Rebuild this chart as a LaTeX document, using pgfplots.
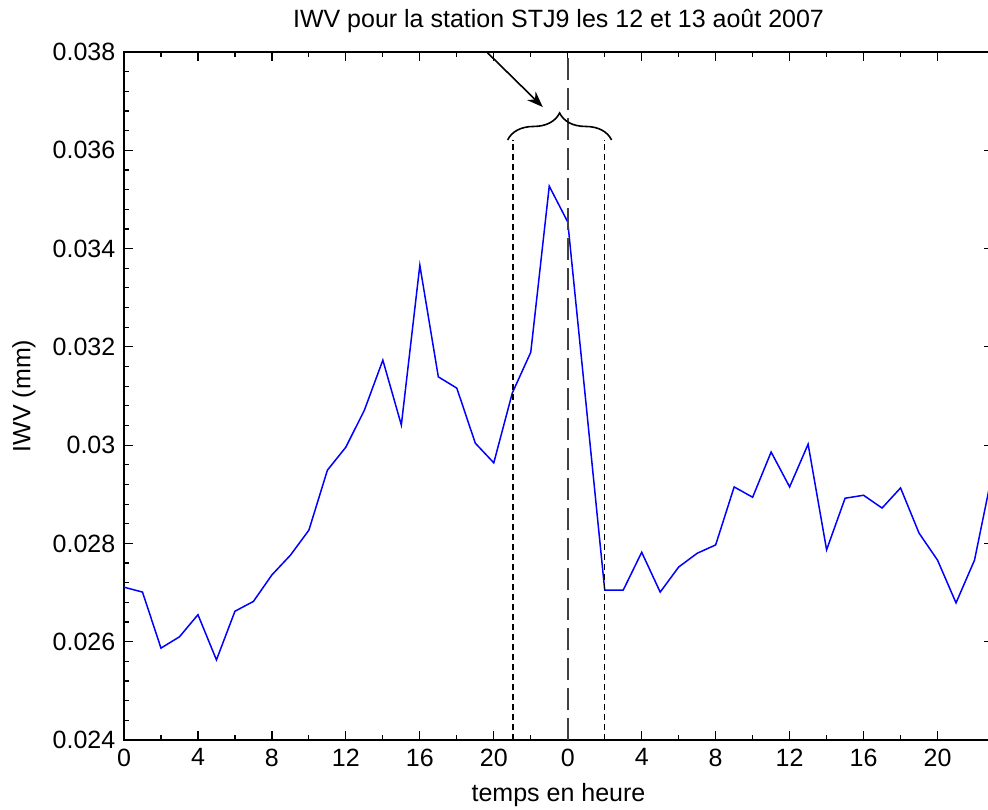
\documentclass[border=0pt]{standalone}
\usepackage{pgfplots}
\pgfplotsset{compat=1.18}
\usepackage{fontspec}
\setmainfont{Liberation Sans}
\usetikzlibrary{decorations.pathreplacing,arrows.meta}
\begin{document}
\fontsize{12.5}{15}\selectfont
\begin{tikzpicture}
\useasboundingbox (0,0) rectangle (494pt,404.5pt);
\begin{axis}[
  at={(62pt,34.5pt)}, anchor=south west,
  scale only axis, width=434.5pt, height=344pt,
  xmin=0, xmax=47, ymin=0.024, ymax=0.038,
  xtick={0,4,...,44},
  xticklabels={0,4,8,12,16,20,0,4,8,12,16,20},
  minor x tick num=1,
  ytick={0.024,0.026,...,0.0381},
  yticklabels={0.024,0.026,0.028,0.03,0.032,0.034,0.036,0.038},
  scaled y ticks=false,
  minor y tick num=4,
  tick align=inside,
  major tick length=4.5pt, minor tick length=2.5pt,
  tick style={black, line width=0.6pt},
  axis line style={line width=0.8pt},
  /pgf/number format/assume math mode=true,
  tick label style={font=\fontsize{12.5}{15}\selectfont},
  label style={font=\fontsize{12.5}{15}\selectfont},
  xlabel={temps en heure},
  ylabel={IWV (mm)},
  title={IWV pour la station STJ9 les 12 et 13 août 2007},
  title style={font=\fontsize{12.5}{15}\selectfont, yshift=-0.5pt},
  clip=true,
]
\addplot[blue, line width=0.75pt] coordinates {
(0,0.02711) (1,0.02701) (2,0.02587) (3,0.02610) (4,0.02655) (5,0.02563)
(6,0.02662) (7,0.02682) (8,0.02736) (9,0.02776) (10,0.02827) (11,0.02949)
(12,0.02996) (13,0.03071) (14,0.03173) (15,0.03041) (16,0.03366) (17,0.03139)
(18,0.03116) (19,0.03004) (20,0.02964) (21,0.03106) (22,0.03189) (23,0.03527)
(24,0.03454) (25,0.03080) (26,0.02705) (27,0.02705) (28,0.02782) (29,0.02701)
(30,0.02752) (31,0.02780) (32,0.02797) (33,0.02915) (34,0.02894) (35,0.02986)
(36,0.02915) (37,0.03002) (38,0.02787) (39,0.02892) (40,0.02898) (41,0.02872)
(42,0.02913) (43,0.02821) (44,0.02766) (45,0.02679) (46,0.02766) (47,0.02950)
};
\draw[black!75, line width=1.1pt, dash pattern=on 11pt off 4pt] (axis cs:24,0.024) -- (axis cs:24,0.038);
\draw[black, line width=0.7pt, dash pattern=on 3pt off 2pt] (axis cs:21.03,0.024) -- (axis cs:21.03,0.03621);
\draw[black, line width=0.7pt, dash pattern=on 3pt off 2pt] (axis cs:26.0,0.024) -- (axis cs:26.0,0.03621);
\draw[black, line width=0.8pt, decorate, decoration={brace, amplitude=13.5pt}] (axis cs:20.75,0.03621) -- (axis cs:26.37,0.03621);
\draw[black, line width=0.8pt, -{Stealth[length=8pt,width=6pt]}] (axis cs:19.62,0.038) -- (axis cs:22.65,0.03688);
\end{axis}
\end{tikzpicture}
\end{document}
